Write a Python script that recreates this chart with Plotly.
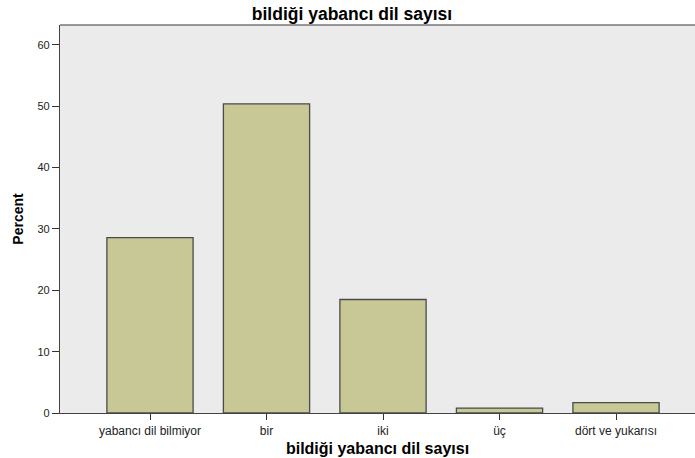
import plotly.graph_objects as go

categories = ["yabancı dil bilmiyor", "bir", "iki", "üç", "dört ve yukarısı"]
percent = [28.6, 50.4, 18.5, 0.8, 1.7]
y_ticks = [0, 10, 20, 30, 40, 50, 60]

fig = go.Figure(go.Bar(
    x=categories, y=percent,
    width=0.74,
    marker=dict(color="#C8C896", line=dict(color="#4A4A4A", width=1.3)),
))

font_family = "Liberation Sans, Arial, sans-serif"
fig.update_layout(
    width=695, height=458,
    margin=dict(l=60, r=0, t=25, b=45),
    paper_bgcolor="white", plot_bgcolor="#EBEBEB",
    showlegend=False,
    title=dict(text="<b>bildiği yabancı dil sayısı</b>", x=352 / 695,
               xanchor="center", y=1 - 14 / 458, yanchor="middle",
               font=dict(family=font_family, size=17.5, color="black")),
    font=dict(family=font_family, size=11, color="#222"),
)
fig.update_xaxes(
    range=[-0.7725, 4.678], showgrid=False, zeroline=False,
    showline=True, linecolor="#444", linewidth=1.3, mirror=False,
    ticks="outside", ticklen=6, tickwidth=1.3, tickcolor="#333",
    tickfont=dict(size=12, color="#222"),
    title=dict(text="<b>bildiği yabancı dil sayısı</b>", standoff=6,
               font=dict(size=16, color="black")),
)
fig.update_yaxes(
    range=[0, 63.25], tickvals=y_ticks, showgrid=False, zeroline=False,
    showline=True, linecolor="#444", linewidth=1.3,
    ticks="outside", ticklen=7, tickwidth=1.3, tickcolor="#333",
    tickfont=dict(size=11, color="#222"),
    title=dict(text="<b>Percent</b>", standoff=10,
               font=dict(size=14, color="black")),
)
fig.add_shape(type="line", xref="paper", yref="paper", x0=0, x1=1, y0=1, y1=1,
              line=dict(color="#777", width=1.3))

fig.write_html("out.html", config={"displayModeBar": False},
               post_script="document.body.style.margin='0';document.body.style.overflow='hidden';")
